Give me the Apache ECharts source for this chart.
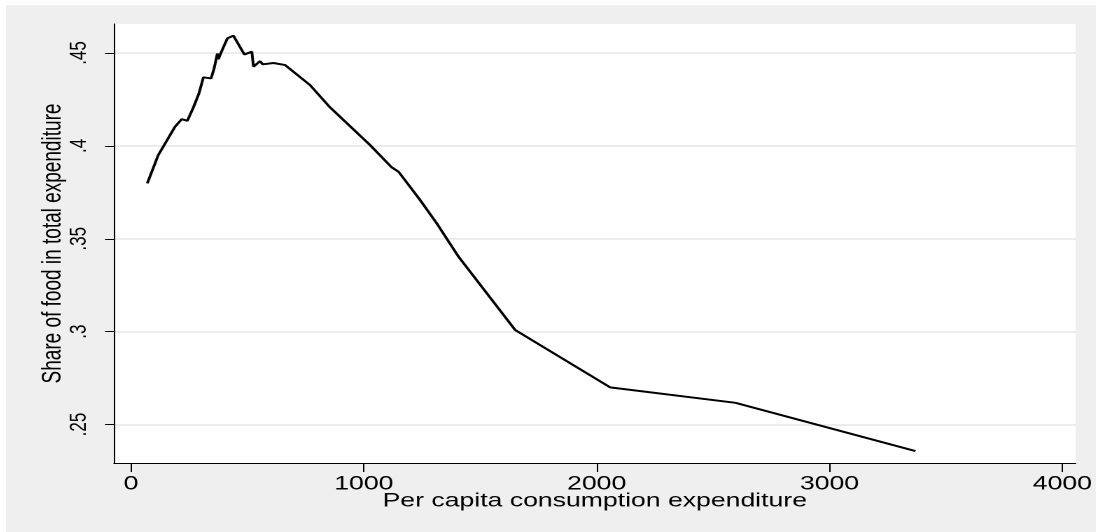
<!DOCTYPE html>
<html>
<head>
<meta charset="utf-8">
<script src="https://cdn.jsdelivr.net/npm/echarts@6.0.0/dist/echarts.min.js"></script>
<style>
  html, body { margin: 0; padding: 0; background: #ffffff; width: 1096px; height: 532px; overflow: hidden; }
  #wrap { position: absolute; left: 6px; top: 5px; width: 1090px; height: 527px; background: #efefef; overflow: hidden; }
  #chart { position: absolute; left: 0; top: 0; width: 778.57px; height: 527px; transform: scaleX(1.4); transform-origin: 0 0; }
</style>
</head>
<body>
<div id="wrap"><div id="chart"></div></div>
<script>
// Per capita consumption expenditure (x) and share of food in total expenditure (y)
const expenditure = [70, 117, 189, 218, 225, 242, 268, 292, 311, 344, 357, 371, 375, 385, 414, 421, 440, 487, 519, 526, 554, 566, 612, 662, 673, 769, 855, 1027, 1120, 1149, 1242, 1313, 1407, 1650, 2058, 2596, 3369];
const foodShare = [0.3798, 0.3950, 0.4103, 0.4144, 0.4135, 0.4135, 0.4207, 0.4283, 0.4369, 0.4363, 0.4417, 0.4497, 0.4466, 0.4497, 0.4579, 0.4573, 0.4593, 0.4492, 0.4507, 0.4426, 0.4456, 0.4439, 0.4446, 0.4435, 0.4442, 0.4327, 0.4207, 0.4004, 0.3884, 0.3861, 0.3708, 0.3583, 0.3403, 0.3009, 0.2700, 0.2617, 0.2357];
const xTicks = [0, 1000, 2000, 3000, 4000];
const yTicks = [0.25, 0.30, 0.35, 0.40, 0.45];
const xTitle = 'Per capita consumption expenditure';
const yTitle = 'Share of food in total expenditure';

const chart = echarts.init(document.getElementById('chart'), null, { devicePixelRatio: 2 });
const font = 'Liberation Sans, Arial, Helvetica, sans-serif';
chart.setOption({
  animation: false,
  backgroundColor: '#efefef',
  grid: { left: 77.14, right: 15, top: 19, bottom: 69, show: true, backgroundColor: '#ffffff', borderWidth: 0, containLabel: false },
  xAxis: {
    type: 'value', min: -73, max: 4057,
    name: xTitle, nameLocation: 'middle', nameGap: 29, nameMoveOverlap: false,
    nameTextStyle: { color: '#000', fontFamily: font, fontSize: 19 },
    axisLine: { show: true, onZero: false, lineStyle: { color: '#000', width: 1 } },
    axisTick: { show: true, length: 9, customValues: xTicks, lineStyle: { color: '#000', width: 1 } },
    axisLabel: { show: true, customValues: xTicks, margin: 12, color: '#000', fontFamily: font, fontSize: 19,
      formatter: v => String(Math.round(v)) },
    splitLine: { show: false }
  },
  yAxis: {
    type: 'value', min: 0.2293, max: 0.4656,
    name: yTitle, nameLocation: 'middle', nameGap: 34, nameRotate: 90, nameMoveOverlap: false,
    nameTextStyle: { color: '#000', fontFamily: font, fontSize: 19 },
    axisLine: { show: true, onZero: false, lineStyle: { color: '#000', width: 1 } },
    axisTick: { show: true, length: 6.4, customValues: yTicks, lineStyle: { color: '#000', width: 1 } },
    axisLabel: { show: true, customValues: yTicks, rotate: 90, margin: 16.5, color: '#000', fontFamily: font, fontSize: 17,
      formatter: v => String(+v.toFixed(2)).replace(/^0/, '') },
    splitLine: { show: true, lineStyle: { color: '#e6e6e6', width: 1.5 } }
  },
  series: [{
    type: 'line',
    data: expenditure.map((x, i) => [x, foodShare[i]]),
    showSymbol: false,
    lineStyle: { color: '#000', width: 2 },
    itemStyle: { color: '#000' }
  }]
});
</script>
</body>
</html>
